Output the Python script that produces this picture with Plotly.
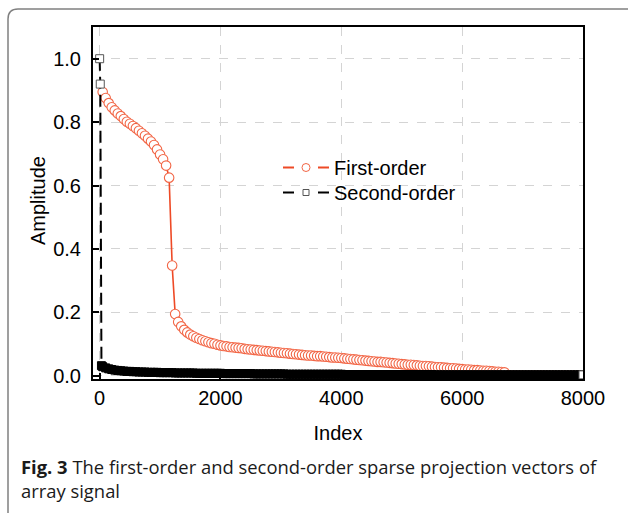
import plotly.graph_objects as go

# ---------------- data ----------------
first_index = list(range(50, 8001, 50))
first_values = [
    0.895, 0.876, 0.860, 0.847, 0.837, 0.827, 0.819, 0.810, 0.801, 0.795,   # 50-500
    0.788, 0.781, 0.773, 0.765, 0.757, 0.748, 0.739, 0.728, 0.714, 0.698,   # 550-1000
    0.683, 0.663, 0.625, 0.348, 0.195, 0.170, 0.156, 0.145, 0.137, 0.130,   # 1050-1500
    0.125, 0.120, 0.116, 0.112, 0.109, 0.106, 0.103, 0.101, 0.098, 0.096,   # 1550-2000
    0.094, 0.093, 0.091, 0.090, 0.089, 0.088, 0.087, 0.085, 0.084, 0.083,   # 2050-2500
    0.082, 0.081, 0.080, 0.079, 0.078, 0.077, 0.076, 0.075, 0.074, 0.073,   # 2550-3000
    0.072, 0.071, 0.070, 0.069, 0.068, 0.067, 0.066, 0.065, 0.064, 0.064,   # 3050-3500
    0.063, 0.062, 0.062, 0.061, 0.060, 0.059, 0.058, 0.058, 0.057, 0.056,   # 3550-4000
    0.055, 0.054, 0.053, 0.052, 0.051, 0.050, 0.049, 0.048, 0.047, 0.046,   # 4050-4500
    0.045, 0.044, 0.044, 0.043, 0.042, 0.041, 0.040, 0.039, 0.038, 0.037,   # 4550-5000
    0.036, 0.035, 0.035, 0.034, 0.033, 0.032, 0.031, 0.031, 0.030, 0.029,   # 5050-5500
    0.028, 0.027, 0.027, 0.026, 0.025, 0.024, 0.024, 0.023, 0.022, 0.021,   # 5550-6000
    0.020, 0.020, 0.019, 0.018, 0.018, 0.017, 0.016, 0.016, 0.015, 0.014,   # 6050-6500
    0.013, 0.013, 0.012, 0.011, 0.000, 0.000, 0.000, 0.000, 0.000, 0.000,   # 6550-7000
    0.000, 0.000, 0.000, 0.000, 0.000, 0.000, 0.000, 0.000, 0.000, 0.000,   # 7050-7500
    0.000, 0.000, 0.000, 0.000, 0.000, 0.000, 0.000, 0.000, 0.000, 0.000,   # 7550-8000
]

second_index = [0, 10, 30] + list(range(50, 8001, 50))
second_values = [1.000, 0.920, 0.032] + [
    0.029, 0.025, 0.022, 0.020, 0.018, 0.017, 0.016, 0.015, 0.014, 0.014,   # 50-500
    0.013, 0.013, 0.012, 0.012, 0.012, 0.011, 0.011, 0.011, 0.011, 0.010,   # 550-1000
    0.010, 0.010, 0.010, 0.010, 0.009, 0.009, 0.009, 0.009, 0.009, 0.009,   # 1050-1500
    0.009, 0.008, 0.008, 0.008, 0.008, 0.008, 0.008, 0.008, 0.008, 0.008,   # 1550-2000
    0.007, 0.007, 0.007, 0.007, 0.007, 0.007, 0.007, 0.007, 0.007, 0.007,   # 2050-2500
    0.006, 0.006, 0.006, 0.006, 0.006, 0.006, 0.006, 0.006, 0.006, 0.006,   # 2550-3000
    0.006, 0.005, 0.005, 0.005, 0.005, 0.005, 0.005, 0.005, 0.005, 0.005,   # 3050-3500
    0.005, 0.005, 0.005, 0.005, 0.005, 0.005, 0.005, 0.005, 0.005, 0.005,   # 3550-4000
    0.004, 0.004, 0.004, 0.004, 0.004, 0.004, 0.004, 0.004, 0.004, 0.004,   # 4050-4500
    0.004, 0.004, 0.004, 0.004, 0.004, 0.004, 0.004, 0.004, 0.004, 0.004,   # 4550-5000
    0.004, 0.004, 0.004, 0.004, 0.004, 0.004, 0.004, 0.004, 0.004, 0.004,   # 5050-5500
    0.003, 0.003, 0.003, 0.003, 0.003, 0.003, 0.003, 0.003, 0.003, 0.003,   # 5550-6000
    0.003, 0.003, 0.003, 0.003, 0.003, 0.003, 0.003, 0.003, 0.003, 0.003,   # 6050-6500
    0.003, 0.003, 0.003, 0.003, 0.003, 0.003, 0.003, 0.003, 0.003, 0.003,   # 6550-7000
    0.003, 0.003, 0.003, 0.003, 0.003, 0.003, 0.003, 0.003, 0.003, 0.003,   # 7050-7500
    0.003, 0.003, 0.003, 0.003, 0.003, 0.003, 0.003, 0.003, 0.003, 0.003,   # 7550-8000
]

series_names = ["First-order", "Second-order"]
x_ticks = [0, 2000, 4000, 6000, 8000]
y_ticks = [0.0, 0.2, 0.4, 0.6, 0.8, 1.0]
y_tick_labels = ["0.0", "0.2", "0.4", "0.6", "0.8", "1.0"]
x_title = "Index"
y_title = "Amplitude"
caption_bold = "Fig. 3"
caption_line1 = " The first-order and second-order sparse projection vectors of"
caption_line2 = "array signal"

# ---------------- styles ----------------
RED = "#ee4a26"
RED_MK = "#f26646"
W, H = 628, 513
ML, MR, MT, MB = 93, 45, 27, 134
PW = W - ML - MR
PH = H - MT - MB
FONT = "Liberation Sans, Arial"


def px2x(px):
    return (px - ML) / PW


def px2y(py):
    return (H - MB - py) / PH


n2 = len(second_values)
sq_fill = ["white" if (i < 2 or i == n2 - 1) else "black" for i in range(n2)]
sq_edge = ["#555555" if (i < 2 or i == n2 - 1) else "black" for i in range(n2)]

fig = go.Figure()

fig.add_trace(go.Scatter(
    x=first_index, y=first_values, mode="lines+markers",
    line=dict(color=RED, width=1.6),
    marker=dict(symbol="circle", size=9.5, color="white",
                line=dict(color=RED_MK, width=1.1)),
    showlegend=False, cliponaxis=True,
))
fig.add_trace(go.Scatter(
    x=second_index, y=second_values, mode="lines+markers",
    line=dict(color="black", width=2, dash="12px,6px"),
    marker=dict(symbol="square", size=8, color=sq_fill,
                line=dict(color=sq_edge, width=1)),
    showlegend=False, cliponaxis=True,
))
# legend entries
fig.add_trace(go.Scatter(
    x=[None], y=[None], mode="lines+markers", name=series_names[0], legend="legend",
    line=dict(color=RED, width=2, dash="11px,24px"),
    marker=dict(symbol="circle", size=8, color="white", line=dict(color=RED_MK, width=1)),
))
fig.add_trace(go.Scatter(
    x=[None], y=[None], mode="lines+markers", name=series_names[1], legend="legend2",
    line=dict(color="black", width=2, dash="11px,24px"),
    marker=dict(symbol="square", size=6, color="white", line=dict(color="#555555", width=1)),
))

axis_common = dict(
    showline=True, linecolor="black", linewidth=2, mirror=True,
    ticks="inside", ticklen=6, tickwidth=2, tickcolor="black",
    showgrid=True, gridcolor="#d4d4d4", gridwidth=1, griddash="dash",
    zeroline=False,
    tickfont=dict(family=FONT, size=20, color="black"),
)

fig.update_xaxes(
    range=[-110, 8000], tickvals=x_ticks,
    title=dict(text=x_title, font=dict(family=FONT, size=20, color="black"), standoff=18),
    **axis_common,
)
fig.update_yaxes(
    range=[-0.01, 1.1], tickvals=y_ticks, ticktext=y_tick_labels,
    ticklabelstandoff=6,
    **axis_common,
)

# outer rounded frame
x0 = px2x(8)
x1 = px2x(660)
y0 = px2y(9)
yb = px2y(540)
r_x = px2x(18) - px2x(8)
r_y = px2y(9) - px2y(19)
frame_path = (f"M {x0},{yb} L {x0},{y0 - r_y} Q {x0},{y0} {x0 + r_x},{y0} L {x1},{y0}")

legend_common = dict(xanchor="left", yanchor="top", bgcolor="rgba(0,0,0,0)", borderwidth=0,
                     font=dict(family=FONT, size=20, color="black"), itemwidth=46)

fig.update_layout(
    width=W, height=H,
    margin=dict(l=ML, r=MR, t=MT, b=MB),
    paper_bgcolor="white", plot_bgcolor="white",
    font=dict(family=FONT, color="black"),
    legend=dict(x=px2x(278), y=px2y(148), **legend_common),
    legend2=dict(x=px2x(278), y=px2y(173), **legend_common),
    shapes=[dict(type="path", xref="paper", yref="paper", path=frame_path,
                 line=dict(color="#808080", width=1.5), layer="above")],
    annotations=[
        dict(xref="paper", yref="paper", x=px2x(38), y=px2y(201), xanchor="center", yanchor="middle",
             showarrow=False, textangle=-90, text=y_title,
             font=dict(family=FONT, size=20, color="black")),
        dict(xref="paper", yref="paper", x=px2x(19), y=px2y(466), xanchor="left", yanchor="middle",
             showarrow=False, align="left",
             text=f"<b>{caption_bold}</b>{caption_line1}",
             font=dict(family="Open Sans", size=18.4, color="#1a1a1a")),
        dict(xref="paper", yref="paper", x=px2x(19), y=px2y(490), xanchor="left", yanchor="middle",
             showarrow=False, align="left",
             text=caption_line2,
             font=dict(family="Open Sans", size=18.4, color="#1a1a1a")),
    ],
)

fig.write_html("out.html")
